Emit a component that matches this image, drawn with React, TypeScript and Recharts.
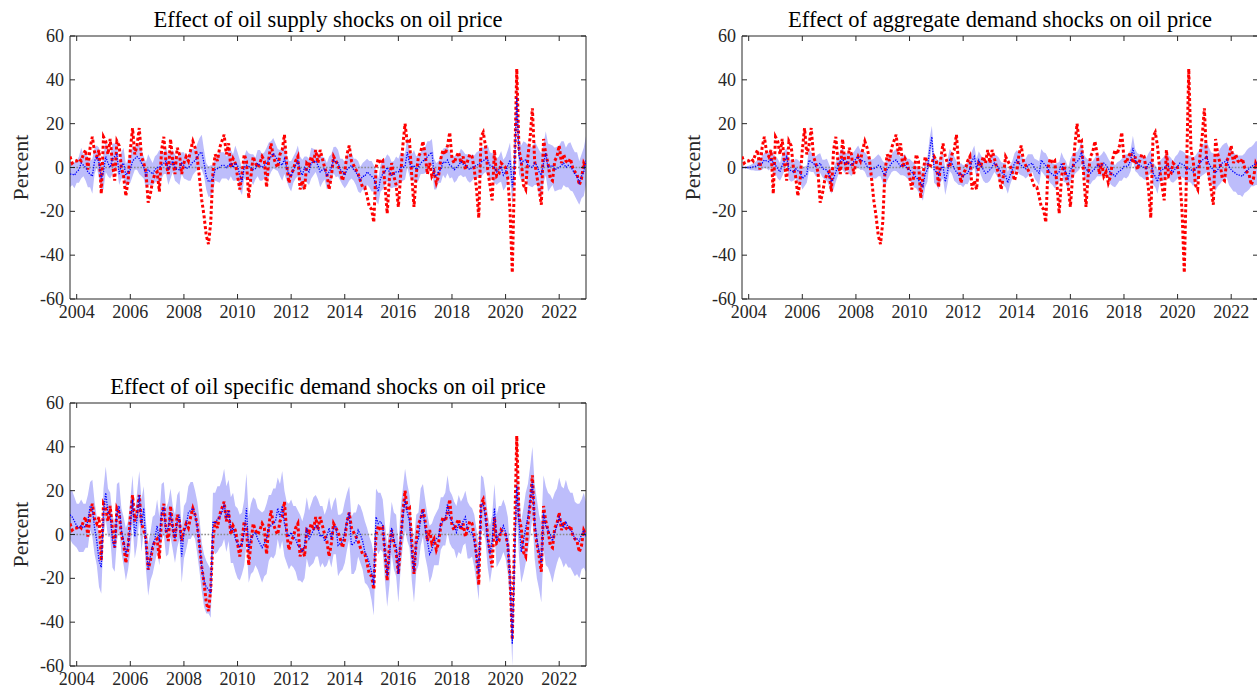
import React from 'react';
import { ComposedChart, Line, Area, XAxis, YAxis, ReferenceLine, ReferenceArea } from 'recharts';

// Monthly observations, October 2003 .. January 2023
const START_YEAR = 2003;
const START_MONTH = 10;
const xTicks = [2004, 2006, 2008, 2010, 2012, 2014, 2016, 2018, 2020, 2022];
const yTicks = [-60, -40, -20, 0, 20, 40, 60];

const titles = [
  'Effect of oil supply shocks on oil price',
  'Effect of aggregate demand shocks on oil price',
  'Effect of oil specific demand shocks on oil price',
];
const yLabel = 'Percent';

// Actual oil price change (red dotted), percent
const oilPrice = [
  5, 2, 3,
  3, 4, 3, 6, 8, -1, 9, 14, 7, 5, 8, -12,
  14, 12, 6, 13, 2, -6, 12, 10, 0, -4, -13, -6,
  8, 18, 6, 10, 18, 5, 2, -2, -16, -12, -6, -3,
  -2, -11, 8, 14, 2, -3, 13, 3, -3, 9, 6, -3,
  2, 5, 3, 8, 12, 9, 4, -5, -15, -22, -31, -35,
  -25, -2, 6, 3, 9, 12, 15, 6, 11, 0, 4, 2,
  -4, -10, -3, 6, 3, -14, -4, 5, 2, 0, 2, 5,
  3, -9, 4, 11, 5, 2, 0, 6, 8, 15, 1, -7,
  -3, -1, 3, 5, -10, -6, -10, 2, 1, 5, 2, 8,
  2, 8, 4, 0, -3, -10, -4, 5, 3, 1, -2, -6,
  -2, 6, 10, 3, 1, -1, -3, -6, -9, -9, -13, -18,
  -19, -25, 0, 4, 2, 3, -8, -21, -5, 2, -4, -8,
  -18, -4, 10, 20, 11, 12, -4, -18, -3, 5, 7, 12,
  6, -3, 2, -4, -2, -7, -4, 4, 8, 6, 10, 16,
  4, 2, 5, 7, 2, 5, -1, 3, 6, 5, -1, -10,
  -23, 14, 16, 10, -1, -8, -15, 8, -4, -3, 2, 1,
  0, -5, -20, -48, -2, 45, 8, 3, -8, -10, 5, 14,
  27, 3, -4, -10, -17, 13, 6, 2, -5, -6, 3, 5,
  10, 2, 6, 3, 2, 4, 0, -2, -3, -8, -5, 2,
  0,
];

// Contribution of oil supply shocks (blue dotted) and half width of its band
const supplyEffect = [
  -3, -3, -3.5,
  -2, -1, 2, 1, 0, -2, -3, -4, 3, 5, 2, -5,
  -2, 5, 2, 0, 4, 5, 6, -3, 1, 2, -3.5, -2,
  -1, 3, 4, 5, 4, 2, 0, -3.5, -1, -2, -3, -1,
  0, 0, 1, 2, 3, -1, 1, 3, 0, -1, -1, 2,
  1, -0.5, 0, 1, 2.6, 3, 5, 6.5, 7, 2, -4, -6.5,
  -6, -5, -1, -0.5, 0, 1, 1, 0, 1, 2, 0, 2,
  1, -3.5, -6.5, 0, 1, 0.5, 0, -1, -0.5, 2, 1, 0,
  1, 2, 3.4, 5, 6.5, 5, 3.4, 2, 1, 4, 0, -3,
  -4, -1, 1, 3, -1, -3.5, 0, -1, -2, 2, 2.5, 3,
  1, -2, -1, -0.5, -4, -2, 0, 3.4, 2.5, 2, -1, -2,
  -3.5, -1, 0, 1, -1, -2, -4, -5.7, -4, -4, -2, -3,
  -4, -5, -8, -11, -5, -3, -2, 0, -2, -3.5, -3, -2,
  -2, 0, 0, 0.5, 7, 2, 0, 1, -1, 0, 2, 3,
  3.4, 5, 6, 7, -3, -4, -2, -1, 2.6, 2, 3.4, 1,
  0.5, -1, 0, 1, 2.6, 1.5, 1, 0, -1, 0, 0.5, 1,
  1.5, 2.6, 3, 4, 3.4, 1, 0.5, 0, -2, -1, 0.5, -3.5,
  -2, 1, 3.4, -9, 0, 32, 5, 2, 3, 3.4, 1, 0.5,
  0, 2, 1, -2, -3.5, 2, 6.5, 0, 0.5, 1, -1, -0.5,
  0, 1, 2, 0, 1, 0.5, -1, -3, -4, -7, -4, -2,
  3.4,
];
const supplyHalf = [
  6, 5, 6,
  5, 6, 7, 5, 6, 7, 6, 8, 6, 5, 7, 6,
  8, 7, 6, 5, 7, 6, 6, 5, 6, 7, 5, 6,
  6, 7, 5, 6, 7, 6, 5, 6, 7, 6, 5, 6,
  6, 8, 6, 5, 6, 7, 6, 5, 6, 6, 7, 5,
  6, 5, 6, 7, 6, 5, 6, 7, 8, 6, 6, 7,
  7, 6, 5, 6, 7, 6, 6, 5, 7, 6, 6, 8,
  6, 7, 6, 5, 7, 6, 6, 7, 5, 6, 7, 6,
  6, 7, 8, 7, 7, 6, 5, 6, 7, 7, 6, 6,
  7, 6, 6, 7, 6, 7, 5, 6, 6, 7, 6, 5,
  6, 7, 6, 5, 6, 7, 6, 6, 7, 6, 5, 6,
  6, 7, 6, 6, 5, 6, 7, 6, 6, 7, 6, 6,
  7, 6, 7, 6, 6, 7, 6, 6, 7, 6, 6, 7,
  6, 7, 6, 6, 7, 6, 6, 7, 6, 6, 5, 6,
  6, 7, 6, 6, 7, 6, 5, 6, 6, 7, 6, 6,
  5, 6, 6, 5, 6, 6, 5, 6, 6, 6, 5, 6,
  6, 7, 6, 6, 7, 6, 6, 7, 6, 6, 7, 7,
  7, 7, 8, 8, 7, 8, 8, 8, 9, 8, 9, 9,
  9, 10, 9, 10, 10, 9, 10, 11, 10, 9, 10, 10,
  10, 11, 10, 9, 10, 11, 10, 10, 11, 10, 10, 11,
  11,
];

// Contribution of aggregate demand shocks and half width of its band
const demandEffect = [
  0, 0, 0,
  0, 0, 0.3, 0.5, 1, 1.5, 2, 3.4, 3, 2.6, 4, 2,
  1, -0.5, -2, 1, 3, 5, -1, -1.5, -2, -0.5, -1.5, -2,
  -5, -4, -3, 3.4, 2.5, 2, 0.5, 1, 2, -0.5, -1, -1,
  -3.5, -6.5, -5, -2, 0.5, 3, 4, 2, 2.6, 1.5, 1, 2.6,
  4, 5, 3.4, 3, 2.6, 0.5, 0, -0.5, -0.5, 0, 1, 0.5,
  -2, -3.5, -1, 0.5, 2, 3, 3.4, 2, 0.5, 1, 1, -0.5,
  -1, -2, -3.5, -4.5, -5.7, -7, -8.7, -3, -1, 8, 14, -1,
  -2, -3.5, -0.5, 0.5, -6.5, -2, 3.4, 2, -0.5, -2, -3.5, -3,
  -4, -3, -2.6, -0.5, 3, 5, -0.5, 3.4, 1, -1, -2.6, -2,
  -1, 0.5, 2, 1, -0.5, -2, -3, -3.5, -7, -3.5, -1, 2,
  3.4, 2, 1, 0, -0.5, 1, 1.5, 2, -0.5, -1.5, -2.6, 3.4,
  2, 1, -0.5, -2.6, -3, -4, -3, -2, 2, -1, -2, -5,
  -1, 0.5, 2, 2.6, 4, 7, 1, -0.5, -2, -2.6, -1.5, -0.5,
  1, 0.5, 1, 2, 1, -0.5, -2.6, -3, -4, -2.6, -1.5, -1,
  0.5, 0.5, 1, 3.4, 9, 3.4, 2, 1, 0.5, 0, -0.5, 1.5,
  2.6, -2.6, -4, -6.5, -2, -1, -0.5, 1, 0.5, -1, -2, -0.5,
  0.5, 2, 1.5, 1, -1, -0.5, -1, -2, -0.5, 0.5, 2, 3.4,
  4, 5, 2, 0, -1, -2.6, -1, 0.5, 2, 2.5, 3.4, 0.5,
  -1, -2, -2.6, -3.5, -3.5, -4, -2.6, -1.5, -0.5, 0.5, 1, 2,
  2,
];
const demandHalf = [
  0.2, 0.3, 0.5,
  0.8, 1.2, 1.6, 2, 2.5, 3, 3, 3.5, 3.5, 4, 4, 4.5,
  4, 4.5, 4, 5, 4.5, 4, 4.5, 5, 4, 4.5, 5, 4.5,
  5, 4.5, 4, 5, 4.5, 4, 4.5, 5, 4.5, 4, 4.5, 5,
  5, 5.5, 5, 4.5, 4, 4.5, 5, 4.5, 4, 4.5, 5, 4.5,
  4.5, 5, 4.5, 4, 4.5, 5, 4.5, 4, 4.5, 5, 5, 4.5,
  5, 5.5, 5, 4.5, 4, 4.5, 5, 4.5, 4, 4.5, 5, 4.5,
  5, 5, 5.5, 5, 5.5, 6, 6.5, 6, 5.5, 5.5, 5, 6,
  6, 6.5, 6, 5.5, 6, 5.5, 5, 5, 5.5, 5, 4.5, 5,
  5, 4.5, 5, 5, 4.5, 5, 4.5, 4, 4.5, 5, 4.5, 5,
  5, 4.5, 4, 4.5, 5, 4.5, 5, 5.5, 5, 4.5, 4, 4.5,
  4.5, 5, 4.5, 4, 4.5, 5, 4.5, 4, 4.5, 5, 5.5, 5,
  5, 5.5, 5, 4.5, 5, 5.5, 5, 4.5, 5, 5.5, 5, 5,
  5, 5.5, 5, 4.5, 5, 5.5, 5, 5, 5.5, 5, 4.5, 5,
  5, 4.5, 5, 5.5, 5, 4.5, 5, 5.5, 5, 5, 4.5, 5,
  5, 5.5, 5, 5, 5.5, 5, 4.5, 5, 5, 5.5, 5, 5,
  5.5, 5, 5, 5.5, 5, 5, 5.5, 5, 5, 5.5, 5, 5.5,
  5.5, 6, 6, 6, 6.5, 6, 6, 6.5, 6, 6.5, 6.5, 7,
  7, 7, 7.5, 7, 7.5, 8, 7.5, 8, 8, 8.5, 8, 8.5,
  8.5, 9, 8.5, 9, 9, 9.5, 9, 9.5, 9.5, 9, 9.5, 10,
  10,
];

// Contribution of oil specific demand shocks and half width of its band
const specificEffect = [
  9, 8, 6,
  4, 3, 4, 3, 4, 6, 13, 12, 3, -3, -12, -15,
  10, 19, 10, 9, -3, -6, 10, 13, 2, -3, -9, -5,
  4, 16, -1, 7, 18, 4, 12, -5, -16, -10, -5, -2,
  4, -3, 10, 12, 1, 3, 10, 3, -2, 6, 9, -10,
  1, 4, 10, 11, 12, 9, 3, -5, -15, -21, -24, -25,
  -27, 6, 5, 7, 8, 10, 14, 7, 11, 2, 3, -2,
  -4, -6, -4, 1, 12, -7, -2, 0, 1, -2, -4, -6,
  -4, -2, 3, 4, 5, 6, 12, 8, 13, 5, 1, -1,
  1, -1, -2, -5, -6, -8, -5, 3, -2, 0, 2, 4,
  3, -1, 0, -3, -1, 3, -2, 3, 4, -5, -4, -3,
  1, 6, 10, -5, -4, -3, 2, 0, -3, -8, -10, -13,
  -17, -23, 8, 5, 6, 4, -8, -19, -10, 3, -3, -5,
  -18, -2, 8, 16, 10, 6, -8, -17, -4, -2, 8, 11,
  3, -3, -9, -7, -3, -2, -1, 5, 6, 7, 14, 8,
  6, 4, 1, 5, 3, 6, 8, 2, 1, 1, -3, -10,
  -18, 14, 14, 8, -3, -9, -3, 12, -3, 0, 1, 4,
  1, -5, -20, -50, -10, 22, 5, -8, -3, 3, 8, 15,
  24, 6, -2, -8, -13, 10, 4, 2, 0, -3, 1, 4,
  8, 5, 3, 6, 3, 2, 1, -2, -2, -3, 0, 2,
  -1,
];
const specificHalf = [
  11, 12, 11,
  10, 11, 12, 11, 10, 12, 11, 13, 12, 11, 12, 12,
  11, 12, 11, 10, 12, 11, 13, 11, 10, 11, 12, 11,
  12, 11, 10, 12, 11, 12, 10, 11, 12, 11, 13, 11,
  12, 11, 13, 12, 11, 12, 11, 10, 11, 12, 11, 12,
  12, 11, 12, 13, 12, 11, 12, 12, 11, 12, 12, 11,
  11, 13, 14, 15, 14, 15, 16, 15, 14, 15, 16, 15,
  16, 15, 14, 15, 16, 15, 16, 17, 15, 14, 15, 16,
  15, 16, 15, 14, 16, 15, 14, 15, 16, 15, 14, 15,
  15, 14, 15, 16, 15, 14, 15, 14, 13, 14, 15, 14,
  13, 14, 13, 12, 13, 14, 13, 12, 13, 14, 13, 13,
  14, 13, 12, 13, 14, 13, 12, 13, 13, 14, 13, 12,
  13, 14, 13, 14, 13, 12, 13, 14, 13, 12, 13, 14,
  13, 14, 13, 14, 13, 12, 13, 14, 13, 12, 13, 12,
  13, 12, 13, 12, 11, 12, 13, 12, 11, 12, 13, 12,
  12, 11, 12, 13, 12, 11, 12, 13, 12, 11, 12, 12,
  12, 13, 12, 11, 12, 13, 12, 11, 12, 13, 12, 12,
  12, 13, 12, 10, 13, 14, 15, 14, 15, 16, 15, 16,
  16, 17, 18, 17, 18, 17, 18, 17, 18, 19, 18, 17,
  18, 17, 18, 19, 18, 17, 18, 17, 16, 17, 16, 17,
  16,
];

const X0 = START_YEAR + (START_MONTH - 1) / 12;
const X1 = 2023;

function buildRows(effect: number[], half: number[]) {
  return oilPrice.map((v, i) => ({
    t: START_YEAR + (START_MONTH - 1 + i) / 12,
    oil: v,
    effect: effect[i],
    band: [effect[i] - half[i], effect[i] + half[i]],
  }));
}

const supplyRows = buildRows(supplyEffect, supplyHalf);
const demandRows = buildRows(demandEffect, demandHalf);
const specificRows = buildRows(specificEffect, specificHalf);

const FONT = "'Liberation Serif', 'Times New Roman', serif";
const INK = '#262626';
const W = 620;
const H = 340;
const PL = 70;
const PR = 586;
const PT = 36;
const PB = 299;
const MARGIN = { top: PT, right: W - PR, bottom: H - PB - 30, left: PL - 40 };
const TICK_FONT = 18;

const XTick = (props: any) => {
  const { x, payload } = props;
  return (
    <g>
      <line x1={x} x2={x} y1={PB} y2={PB - 5} stroke={INK} strokeWidth={1} />
      <line x1={x} x2={x} y1={PT} y2={PT + 5} stroke={INK} strokeWidth={1} />
      <text
        x={x}
        y={PB + 18.5}
        textAnchor="middle"
        fontSize={TICK_FONT}
        fill={INK}
        fontFamily={FONT}
        style={{ fontFamily: FONT }}
      >
        {payload.value}
      </text>
    </g>
  );
};

const YTick = (props: any) => {
  const { y, payload } = props;
  return (
    <g>
      <line x1={PL} x2={PL + 5} y1={y} y2={y} stroke={INK} strokeWidth={1} />
      <line x1={PR} x2={PR - 5} y1={y} y2={y} stroke={INK} strokeWidth={1} />
      <text
        x={PL - 6}
        y={y + 6}
        textAnchor="end"
        fontSize={TICK_FONT}
        fill={INK}
        fontFamily={FONT}
        style={{ fontFamily: FONT }}
      >
        {payload.value}
      </text>
    </g>
  );
};

function Panel({ rows }: { rows: any[] }) {
  return (
    <ComposedChart width={W} height={H} data={rows} margin={MARGIN}>
      <XAxis
        dataKey="t"
        type="number"
        domain={[X0, X1]}
        ticks={xTicks}
        interval={0}
        allowDataOverflow
        height={30}
        axisLine={false}
        tickLine={false}
        tick={XTick}
      />
      <YAxis
        type="number"
        domain={[-60, 60]}
        ticks={yTicks}
        interval={0}
        allowDataOverflow
        width={40}
        axisLine={false}
        tickLine={false}
        tick={YTick}
      />
      <Area
        dataKey="band"
        type="linear"
        stroke="none"
        fill="#bdbdfb"
        fillOpacity={1}
        isAnimationActive={false}
        dot={false}
        activeDot={false}
      />
      <ReferenceLine y={0} stroke="#8c8c8c" strokeDasharray="1.6 1.6" strokeWidth={1.4} />
      <Line
        dataKey="oil"
        type="linear"
        stroke="#ff0000"
        strokeWidth={3}
        strokeDasharray="3 2.4"
        dot={false}
        activeDot={false}
        isAnimationActive={false}
      />
      <Line
        dataKey="effect"
        type="linear"
        stroke="#0000ff"
        strokeWidth={1.3}
        strokeDasharray="1.3 1.3"
        dot={false}
        activeDot={false}
        isAnimationActive={false}
      />
      <ReferenceArea x1={X0} x2={X1} y1={-60} y2={60} fill="none" stroke={INK} strokeWidth={1} ifOverflow="visible" />
    </ComposedChart>
  );
}

const panels = [
  { rows: supplyRows, left: 0, top: 0 },
  { rows: demandRows, left: 672, top: 0 },
  { rows: specificRows, left: 0, top: 367 },
];

export default function App() {
  return (
    <div
      style={{
        position: 'absolute',
        left: 0,
        top: 0,
        width: 1257,
        height: 690,
        overflow: 'hidden',
        background: '#ffffff',
      }}
    >
      {panels.map((p, i) => (
        <div key={i} style={{ position: 'absolute', left: p.left, top: p.top, width: W, height: H }}>
          <Panel rows={p.rows} />
        </div>
      ))}
      <svg
        width={1257}
        height={690}
        style={{ position: 'absolute', left: 0, top: 0, pointerEvents: 'none' }}
      >
        {panels.map((p, i) => {
          const cx = p.left + (PL + PR) / 2;
          const ly = p.top + (PT + PB) / 2;
          const lx = p.left + PL - 42;
          return (
            <g key={i}>
              <text
                x={cx}
                y={p.top + 27}
                textAnchor="middle"
                fontSize={22.5}
                fill="#000"
                fontFamily={FONT}
                style={{ fontFamily: FONT }}
              >
                {titles[i]}
              </text>
              <text
                x={lx}
                y={ly}
                textAnchor="middle"
                fontSize={22}
                fill={INK}
                fontFamily={FONT}
                style={{ fontFamily: FONT }}
                transform={`rotate(-90, ${lx}, ${ly})`}
              >
                {yLabel}
              </text>
            </g>
          );
        })}
      </svg>
    </div>
  );
}
